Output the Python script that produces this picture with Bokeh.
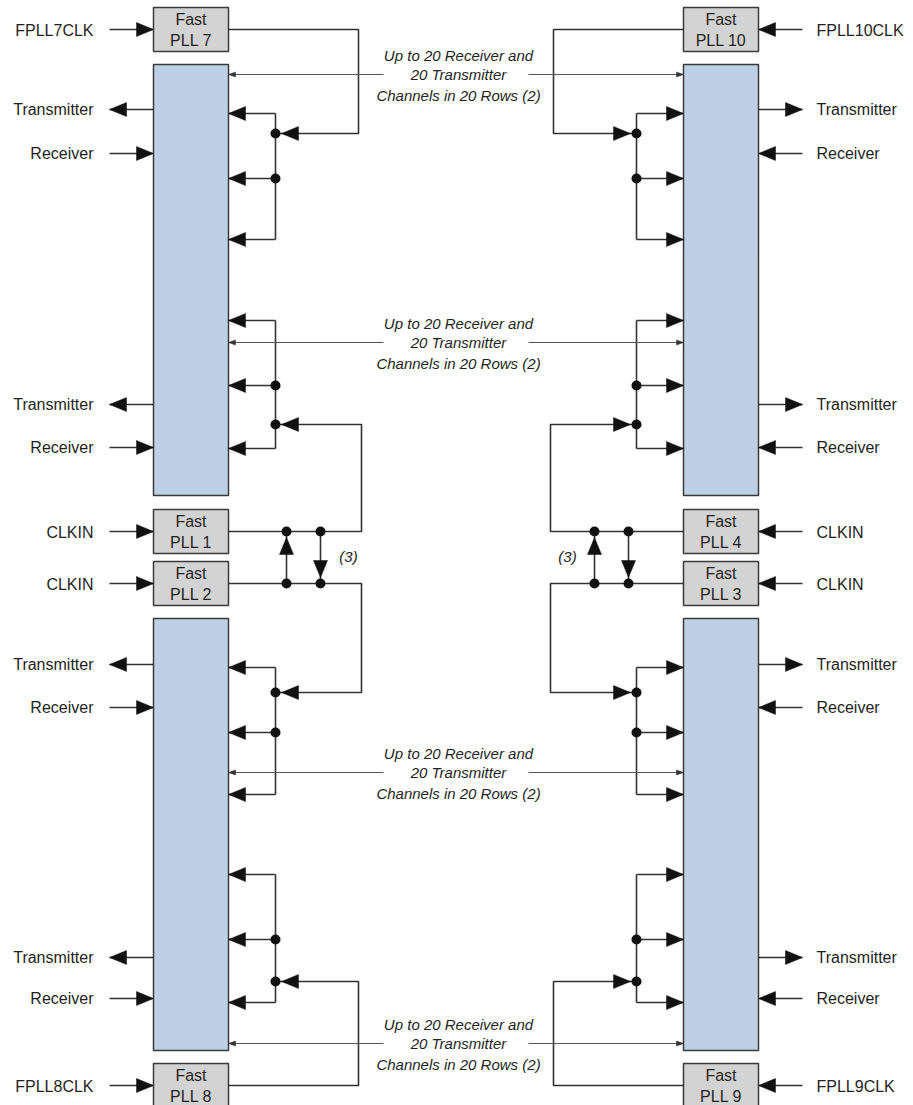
from bokeh.plotting import figure
from bokeh.models import Range1d
from bokeh.core.properties import value
from bokeh.embed import file_html
from bokeh.resources import INLINE

# ---------------- data (labels) ----------------
left_plls = ["7", "1", "2", "8"]
right_plls = ["10", "4", "3", "9"]
left_clocks = ["FPLL7CLK", "CLKIN", "CLKIN", "FPLL8CLK"]
right_clocks = ["FPLL10CLK", "CLKIN", "CLKIN", "FPLL9CLK"]
io_names = ["Transmitter", "Receiver"]
note_lines = ["Up to 20 Receiver and", "20 Transmitter", "Channels in 20 Rows (2)"]
cascade_note = "(3)"

# ---------------- layout ----------------
W, H = 913, 1105
p = figure(width=W, height=H, x_range=Range1d(0, W), y_range=Range1d(H, 0),
           output_backend="svg", toolbar_location=None, min_border=0,
           x_axis_type=None, y_axis_type=None)
p.grid.visible = False
p.outline_line_color = None

def m(x):
    return 911 - x

LX0, LX1 = 153, 228
pll_tops = [7, 509, 561, 1063]
PLL_H = 44
pll_c = [t + PLL_H / 2 for t in pll_tops]
blocks = [(64, 495), (618, 1050)]
io_y = [(109, 153), (404, 447), (664, 707), (957, 998)]
grp_arrows = [(113, 178, 239), (320, 385, 448), (667, 732, 794), (874, 939, 1002)]
grp_feed = [133, 424, 692, 981]
route_x = [358, 361, 361, 358]
BR = 275
chan_y = [74, 342, 772, 1043]
LBL_X = 93
RLBL_X = 816

LINE = "#333333"
segs_x, segs_y = [], []
thin_x, thin_y = [], []
heads_x, heads_y = [], []
small_x, small_y = [], []
dots_x, dots_y = [], []

def seg(xs, ys):
    segs_x.append(list(xs)); segs_y.append(list(ys))

def head(tx, ty, dx, dy, L=17, Wd=14, small=False):
    bx, by = tx - L * dx, ty - L * dy
    px, py = -dy, dx
    xs = [tx, bx + Wd / 2 * px, bx - Wd / 2 * px]
    ys = [ty, by + Wd / 2 * py, by - Wd / 2 * py]
    if small:
        small_x.append(xs); small_y.append(ys)
    else:
        heads_x.append(xs); heads_y.append(ys)

for side in (0, 1):
    f = (lambda x: x) if side == 0 else m
    s = 1 if side == 0 else -1  # +1: left side, outward is -x
    inner = f(LX1)
    outer = f(LX0)
    lbl_edge = f(LX0 - 44)
    # clock inputs
    for c in pll_c:
        seg([lbl_edge, outer], [c, c]); head(outer, c, s, 0)
    # Tx / Rx
    for ty, ry in io_y:
        seg([outer, lbl_edge], [ty, ty]); head(lbl_edge, ty, -s, 0)
        seg([lbl_edge, outer], [ry, ry]); head(outer, ry, s, 0)
    # clock trees
    br = f(BR)
    for gi, (ya, yb, yc) in enumerate(grp_arrows):
        seg([br, br], [ya, yc])
        for y in (ya, yb, yc):
            seg([br, inner], [y, y]); head(inner, y, -s, 0)
        fy = grp_feed[gi]
        rx = f(route_x[gi])
        seg([inner, rx, rx, br], [pll_c[gi], pll_c[gi], fy, fy])
        head(br + s * 6, fy, -s, 0)
        dots_x += [br, br]; dots_y += [fy, yb]
    # channel lines
    for cy in chan_y:
        thin_x.append([f(383), inner]); thin_y.append([cy, cy])
        head(inner, cy, -s, 0, L=7, Wd=5, small=True)

# cascade arrows between PLL pairs (up arrow left, down arrow right)
for xu, xd in [(286, 320), (m(320) + 3, m(286) + 3)]:
    ya, yb = pll_c[1], pll_c[2]
    seg([xu, xu], [yb, ya]); head(xu, ya + 6, 0, -1)
    seg([xd, xd], [ya, yb]); head(xd, yb - 6, 0, 1)
    dots_x += [xu, xd, xu, xd]; dots_y += [ya, ya, yb, yb]

# ---------------- draw ----------------
for side in (0, 1):
    f = (lambda x: x) if side == 0 else m
    x0, x1 = sorted([f(LX0), f(LX1)])
    for (t, b) in blocks:
        p.quad(left=x0, right=x1, top=t, bottom=b, fill_color="#bed0e6",
               line_color="#3a3a3a", line_width=1.5)
    for t in pll_tops:
        p.quad(left=x0, right=x1, top=t, bottom=t + PLL_H, fill_color="#d3d3d3",
               line_color="#3a3a3a", line_width=1.5)

p.multi_line(segs_x, segs_y, line_color=LINE, line_width=1.6)
p.multi_line(thin_x, thin_y, line_color="#555555", line_width=1.1)
p.patches(heads_x, heads_y, fill_color="#111111", line_color="#111111", line_width=0.5)
p.patches(small_x, small_y, fill_color="#333333", line_color="#333333", line_width=0.5)
p.scatter(dots_x, dots_y, size=10, fill_color="#111111", line_color=None)

LF = value("Liberation Sans")
TC = "#231f20"

# PLL box labels
for side, names in ((0, left_plls), (1, right_plls)):
    cx = (LX0 + LX1) / 2 if side == 0 else m((LX0 + LX1) / 2)
    p.text([cx] * 4, [t + 12 for t in pll_tops], text=["Fast"] * 4, text_font=LF,
           text_font_size="16px", text_align="center", text_baseline="middle", text_color=TC)
    p.text([cx] * 4, [t + 33 for t in pll_tops], text=["PLL " + n for n in names], text_font=LF,
           text_font_size="16px", text_align="center", text_baseline="middle", text_color=TC)

# clock / io labels
p.text([LBL_X] * 4, [c + 1 for c in pll_c], text=left_clocks, text_font=LF, text_font_size="16px",
       text_align="right", text_baseline="middle", text_color=TC)
p.text([RLBL_X] * 4, [c + 1 for c in pll_c], text=right_clocks, text_font=LF, text_font_size="16px",
       text_align="left", text_baseline="middle", text_color=TC)
ys = [y for pair in io_y for y in pair]
names = [io_names[i % 2] for i in range(len(ys))]
p.text([LBL_X] * len(ys), ys, text=names, text_font=LF, text_font_size="16px",
       text_align="right", text_baseline="middle", text_color=TC)
p.text([RLBL_X] * len(ys), ys, text=names, text_font=LF, text_font_size="16px",
       text_align="left", text_baseline="middle", text_color=TC)

# channel notes
nx, ny, nt = [], [], []
for cy in chan_y:
    for k, off in enumerate((-19, 0, 21)):
        nx.append(458); ny.append(cy + off); nt.append(note_lines[k])
p.text(nx, ny, text=nt, text_font=LF, text_font_style="italic", text_font_size="15px",
       text_align="center", text_baseline="middle", text_color=TC)

# cascade notes
p.text([348, 567], [pll_tops[2] - 5, pll_tops[2] - 5], text=[cascade_note] * 2, text_font=LF,
       text_font_style="italic", text_font_size="15px", text_align="center",
       text_baseline="middle", text_color=TC)

open("out.html", "w").write(file_html(p, INLINE))
